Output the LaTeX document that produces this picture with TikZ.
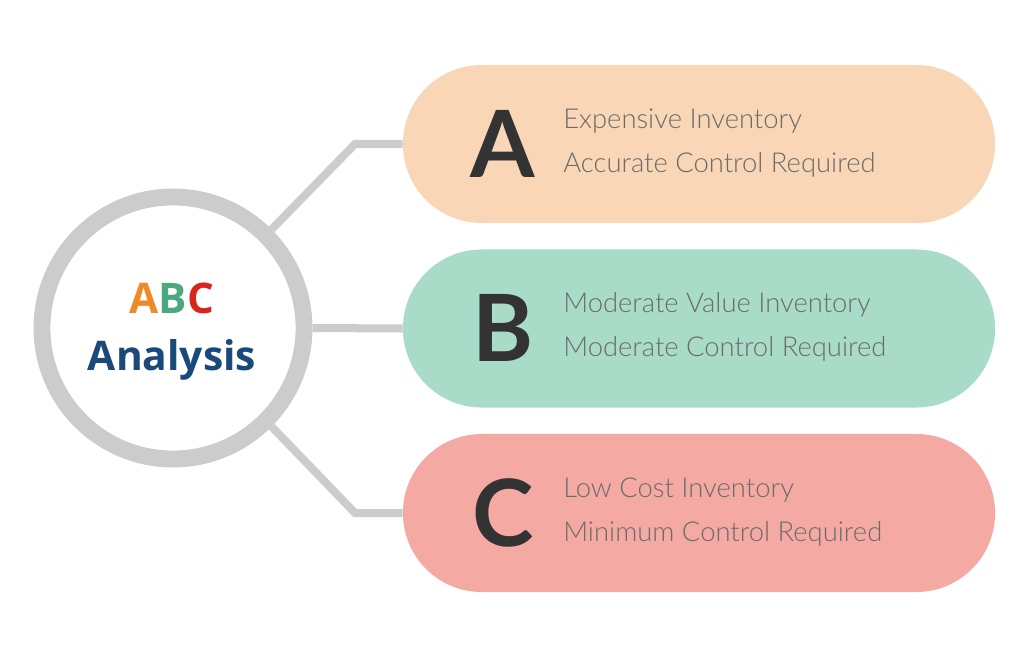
\documentclass[tikz,border=0pt]{standalone}
\usepackage{fontspec}
\setmainfont{Lato}
\newfontfamily\lightfont{Lato Light}
\newfontfamily\titlefont{Open Sans}
\usetikzlibrary{positioning}

\definecolor{ringgray}{HTML}{CCCCCC}
\definecolor{peachA}{HTML}{F9D7B6}
\definecolor{mintB}{HTML}{A8DCC8}
\definecolor{salmonC}{HTML}{F5A9A3}
\definecolor{orangeA}{HTML}{EE8A2A}
\definecolor{greenB}{HTML}{4DA882}
\definecolor{redC}{HTML}{D9261C}
\definecolor{navy}{HTML}{1B4A7A}
\definecolor{darkletter}{HTML}{333333}
\definecolor{descgray}{HTML}{6B6B6B}

\begin{document}
\begin{tikzpicture}[
  x=0.025cm, y=-0.025cm,
  pill/.style={rectangle,rounded corners=1.97cm,minimum width=14.8cm,
               minimum height=3.95cm,inner sep=0pt},
  hubring/.style={circle,draw=ringgray,line width=12pt,fill=white,
                  minimum size=6.55cm,inner sep=0pt},
  link/.style={ringgray,line width=5.7pt},
  grade/.style={font=\fontsize{66}{66}\selectfont\bfseries,text=darkletter,
                inner sep=0pt,anchor=base},
  desc/.style={font=\lightfont\fontsize{19.5}{19.5}\selectfont,text=descgray,
               inner sep=0pt,anchor=base west},
]
  \useasboundingbox (0,0) rectangle (1024,658);

  % Category pills
  \node[pill,fill=peachA]  (pillA) at (699,144) {};
  \node[pill,fill=mintB]   (pillB) at (699,328.5) {};
  \node[pill,fill=salmonC] (pillC) at (699,513) {};

  % Central ring
  \node[hubring] (hub) at (173,328) {};
  \node[font=\titlefont\fontsize{30}{30}\selectfont\bfseries,inner sep=0pt,
    anchor=base] (abc) at (172,313) {\textcolor{orangeA}{A}\textcolor{greenB}{B}\textcolor{redC}{C}};
  \node[font=\titlefont\fontsize{29}{29}\selectfont\bfseries,text=navy,
    inner sep=0pt,anchor=base] (title) at (172,370) {Analysis};

  % Knees of the connectors
  \coordinate (kneeA) at (355,144);
  \coordinate (kneeC) at (355,513);

  % Connectors
  \draw[link] (hub.45) -- (kneeA) -- (pillA.west);
  \draw[link] (hub.east) -- (pillB.west);
  \draw[link] (hub.-45) -- (kneeC) -- (pillC.west);

  % Grade letters
  \node[grade] (gA) at (503,177) {A};
  \node[grade] (gB) at (503,361.5) {B};
  \node[grade] (gC) at (503,546) {C};

  % Descriptions
  \node[desc] (dA1) at (563,128) {Expensive Inventory};
  \node[desc] (dA2) at (563,172) {Accurate Control Required};
  \node[desc] (dB1) at (563,312.5) {Moderate Value Inventory};
  \node[desc] (dB2) at (563,356.5) {Moderate Control Required};
  \node[desc] (dC1) at (563,497) {Low Cost Inventory};
  \node[desc] (dC2) at (563,541) {Minimum Control Required};
\end{tikzpicture}
\end{document}
